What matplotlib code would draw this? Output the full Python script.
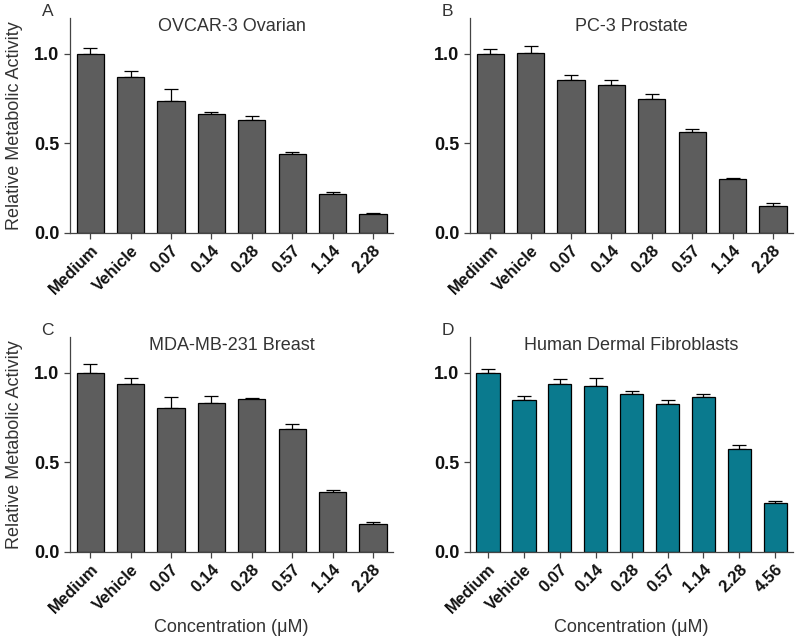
import matplotlib
matplotlib.use("Agg")
import matplotlib.pyplot as plt
import numpy as np

plt.rcParams['font.family'] = ['Liberation Sans', 'DejaVu Sans']

cats8 = ["Medium", "Vehicle", "0.07", "0.14", "0.28", "0.57", "1.14", "2.28"]
cats9 = ["Medium", "Vehicle", "0.07", "0.14", "0.28", "0.57", "1.14", "2.28", "4.56"]

ovcar_vals = [1.00, 0.873, 0.736, 0.663, 0.633, 0.438, 0.219, 0.105]
ovcar_err = [0.034, 0.032, 0.069, 0.013, 0.017, 0.015, 0.010, 0.006]

pc3_vals = [1.00, 1.002, 0.856, 0.828, 0.748, 0.565, 0.303, 0.151]
pc3_err = [0.028, 0.044, 0.026, 0.023, 0.026, 0.015, 0.003, 0.015]

mda_vals = [1.00, 0.939, 0.806, 0.832, 0.855, 0.687, 0.335, 0.156]
mda_err = [0.050, 0.031, 0.058, 0.041, 0.003, 0.026, 0.009, 0.012]

hdf_vals = [1.00, 0.849, 0.939, 0.929, 0.879, 0.827, 0.866, 0.577, 0.274]
hdf_err = [0.020, 0.024, 0.027, 0.043, 0.020, 0.022, 0.013, 0.021, 0.009]

gray = "#5d5d5d"
teal = "#0a7a8e"
txt = "#333333"

panels = [
    ("A", "OVCAR-3 Ovarian", cats8, ovcar_vals, ovcar_err, gray, [0.0875, 0.636, 0.404, 0.336]),
    ("B", "PC-3 Prostate", cats8, pc3_vals, pc3_err, gray, [0.5875, 0.636, 0.404, 0.336]),
    ("C", "MDA-MB-231 Breast", cats8, mda_vals, mda_err, gray, [0.0875, 0.1375, 0.404, 0.336]),
    ("D", "Human Dermal Fibroblasts", cats9, hdf_vals, hdf_err, teal, [0.5875, 0.1375, 0.404, 0.336]),
]

fig = plt.figure(figsize=(8, 6.4), dpi=100)
for i, (letter, title, cats, vals, errs, col, pos) in enumerate(panels):
    ax = fig.add_axes(pos)
    x = np.arange(len(cats))
    width = 0.67 if len(cats) == 8 else 0.65
    ax.bar(x, vals, width=width, color=col, edgecolor="black", linewidth=0.9, zorder=2)
    ax.errorbar(x, vals, yerr=[np.zeros(len(vals)), errs], fmt="none", ecolor="black",
                elinewidth=0.9, capsize=5, capthick=0.9, zorder=1)
    ax.set_xlim(-0.5, len(cats) - 0.5)
    ax.set_ylim(0, 1.2)
    ax.set_yticks([0.0, 0.5, 1.0])
    ax.set_yticklabels(["0.0", "0.5", "1.0"], fontsize=13, fontweight="bold", color="#111111")
    ax.set_xticks(x)
    ax.set_xticklabels(cats, rotation=45, ha="right", rotation_mode="anchor",
                       fontsize=12, fontweight="bold", color="#111111")
    for s in ["top", "right"]:
        ax.spines[s].set_visible(False)
    for s in ["left", "bottom"]:
        ax.spines[s].set_linewidth(0.9)
        ax.spines[s].set_color("#444444")
    ax.tick_params(axis="both", direction="out", length=4, width=0.9, color="#444444")
    ax.tick_params(axis="x", pad=3)
    ax.set_title(title, fontsize=13, color=txt, pad=-2, y=0.95)
    ax.text(-0.07, 1.03, letter, transform=ax.transAxes, fontsize=12.5, color=txt,
            ha="center", va="center")
    if i % 2 == 0:
        ax.set_ylabel("Relative Metabolic Activity", fontsize=13, color=txt, labelpad=8)
    if i >= 2:
        ax.set_xlabel("Concentration (μM)", fontsize=13, color=txt, labelpad=2)

fig.savefig("out.png", dpi=100)
